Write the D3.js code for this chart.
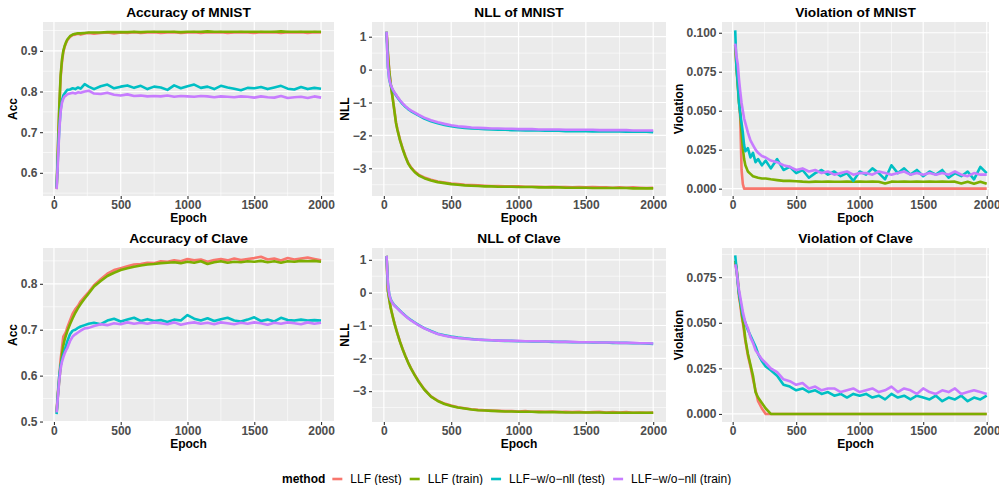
<!DOCTYPE html>
<html>
<head>
<meta charset="utf-8">
<script src="https://cdn.jsdelivr.net/npm/d3@7"></script>
<style>
    body { margin: 0; background: #ffffff; }
    svg { display: block; font-family: "Liberation Sans", Arial, sans-serif; }
</style>
</head>
<body>
<div id="d3plot"></div>
<script>
// Data
// ==================================================================
// epochs sampled (denser where the curves move fast)
const epochs = [20, 30, 40, 50, 60, 70, 80, 90, 100, 120, 140, 160, 180, 200, 230, 260,
    300, 350, 400, 450, 500, 550, 600,
    650, 700, 750, 800, 850, 900, 950,
    1000, 1050, 1100, 1150, 1200, 1250, 1300,
    1350, 1400, 1450, 1500, 1550, 1600, 1650,
    1700, 1750, 1800, 1850, 1900, 1950, 2000];

const methods = ["LLF (test)", "LLF (train)", "LLF\u2212w/o\u2212nll (test)", "LLF\u2212w/o\u2212nll (train)"];

// Accuracy of MNIST
const accMnistTest = [0.560, 0.655, 0.755, 0.835, 0.872, 0.897, 0.910, 0.919, 0.926, 0.934, 0.939, 0.940, 0.942, 0.940, 0.943, 0.944,
    0.942, 0.944, 0.945, 0.943, 0.945, 0.944, 0.946,
    0.944, 0.945, 0.946, 0.944, 0.945, 0.946, 0.944,
    0.945, 0.946, 0.944, 0.946, 0.945, 0.946, 0.944,
    0.945, 0.946, 0.945, 0.944, 0.946, 0.945, 0.946,
    0.944, 0.946, 0.945, 0.946, 0.944, 0.946, 0.945];
const accMnistTrain = [0.562, 0.665, 0.765, 0.840, 0.878, 0.900, 0.912, 0.921, 0.928, 0.936, 0.940, 0.942, 0.943, 0.943, 0.944, 0.945,
    0.945, 0.945, 0.946, 0.946, 0.946, 0.946, 0.947,
    0.946, 0.947, 0.947, 0.947, 0.947, 0.947, 0.946,
    0.947, 0.947, 0.947, 0.948, 0.947, 0.947, 0.947,
    0.947, 0.947, 0.947, 0.947, 0.947, 0.947, 0.947,
    0.948, 0.947, 0.947, 0.947, 0.947, 0.947, 0.947];
const accMnistWoTest = [0.565, 0.640, 0.710, 0.755, 0.778, 0.790, 0.795, 0.800, 0.804, 0.805, 0.808, 0.806, 0.810, 0.807, 0.818, 0.812,
    0.806, 0.813, 0.817, 0.808, 0.812, 0.815, 0.809,
    0.814, 0.806, 0.812, 0.810, 0.804, 0.815, 0.808,
    0.813, 0.817, 0.809, 0.812, 0.806, 0.814, 0.810,
    0.807, 0.803, 0.809, 0.808, 0.811, 0.806, 0.810,
    0.814, 0.807, 0.805, 0.811, 0.806, 0.809, 0.807];
const accMnistWoTrain = [0.560, 0.630, 0.705, 0.750, 0.772, 0.782, 0.788, 0.790, 0.793, 0.795, 0.797, 0.795, 0.798, 0.797, 0.800, 0.802,
    0.795, 0.794, 0.797, 0.792, 0.790, 0.793, 0.789,
    0.790, 0.788, 0.789, 0.788, 0.790, 0.787, 0.789,
    0.788, 0.787, 0.789, 0.788, 0.786, 0.788, 0.787,
    0.786, 0.788, 0.787, 0.785, 0.788, 0.786, 0.785,
    0.789, 0.784, 0.786, 0.787, 0.784, 0.788, 0.785];

// NLL of MNIST
const nllMnistTest = [1.150, 0.500, -0.030, -0.400, -0.700, -0.990, -1.290, -1.600, -1.800, -2.130, -2.400, -2.630, -2.830, -2.960, -3.100, -3.200,
    -3.280, -3.350, -3.400, -3.430, -3.460, -3.480, -3.500,
    -3.510, -3.520, -3.530, -3.540, -3.540, -3.550, -3.550,
    -3.550, -3.560, -3.560, -3.560, -3.570, -3.560, -3.570,
    -3.570, -3.580, -3.570, -3.580, -3.570, -3.580, -3.580,
    -3.590, -3.580, -3.590, -3.580, -3.590, -3.600, -3.590];
const nllMnistTrain = [1.150, 0.480, -0.050, -0.420, -0.720, -1.010, -1.310, -1.620, -1.820, -2.150, -2.420, -2.650, -2.850, -2.980, -3.120, -3.220,
    -3.300, -3.370, -3.420, -3.450, -3.480, -3.500, -3.520,
    -3.530, -3.540, -3.550, -3.550, -3.560, -3.560, -3.560,
    -3.570, -3.570, -3.570, -3.580, -3.580, -3.580, -3.580,
    -3.590, -3.590, -3.590, -3.590, -3.600, -3.600, -3.600,
    -3.600, -3.600, -3.600, -3.610, -3.610, -3.610, -3.610];
const nllMnistWoTest = [1.150, 0.080, -0.300, -0.470, -0.570, -0.650, -0.720, -0.780, -0.840, -0.950, -1.050, -1.130, -1.200, -1.260, -1.330, -1.400,
    -1.490, -1.570, -1.630, -1.680, -1.720, -1.750, -1.770,
    -1.790, -1.800, -1.810, -1.820, -1.830, -1.830, -1.840,
    -1.840, -1.850, -1.850, -1.850, -1.860, -1.860, -1.860,
    -1.870, -1.870, -1.870, -1.870, -1.880, -1.880, -1.880,
    -1.880, -1.880, -1.890, -1.890, -1.890, -1.890, -1.900];
const nllMnistWoTrain = [1.150, 0.100, -0.280, -0.450, -0.550, -0.630, -0.700, -0.760, -0.820, -0.930, -1.030, -1.110, -1.180, -1.240, -1.310, -1.380,
    -1.460, -1.540, -1.600, -1.650, -1.690, -1.720, -1.740,
    -1.760, -1.770, -1.780, -1.790, -1.790, -1.800, -1.800,
    -1.810, -1.810, -1.810, -1.820, -1.820, -1.820, -1.820,
    -1.830, -1.830, -1.830, -1.830, -1.830, -1.840, -1.840,
    -1.840, -1.840, -1.840, -1.850, -1.850, -1.850, -1.850];

// Violation of MNIST
const violMnistTest = [0.092, 0.078, 0.068, 0.057, 0.045, 0.012, 0.003, 0, 0, 0, 0, 0, 0, 0, 0, 0,
    0, 0, 0, 0, 0, 0, 0,
    0, 0, 0, 0, 0, 0, 0,
    0, 0, 0, 0, 0, 0, 0,
    0, 0, 0, 0, 0, 0, 0,
    0, 0, 0, 0, 0, 0, 0];
const violMnistTrain = [0.092, 0.078, 0.066, 0.055, 0.048, 0.036, 0.026, 0.019, 0.015, 0.011, 0.0095, 0.008, 0.0075, 0.007, 0.0065, 0.0065,
    0.0060, 0.0055, 0.0050, 0.0050, 0.0048, 0.0045, 0.0043,
    0.0045, 0.0044, 0.0045, 0.0044, 0.0044, 0.0045, 0.0044,
    0.0045, 0.0044, 0.0045, 0.0044, 0.0033, 0.0045, 0.0044,
    0.0045, 0.0044, 0.0045, 0.0044, 0.0045, 0.0044, 0.0045,
    0.0044, 0.0045, 0.0033, 0.0044, 0.0032, 0.0044, 0.0031];
const violMnistWoTest = [0.1015, 0.078, 0.068, 0.055, 0.048, 0.042, 0.036, 0.028, 0.024, 0.026, 0.020, 0.023, 0.017, 0.019, 0.015, 0.018,
    0.013, 0.019, 0.012, 0.014, 0.010, 0.012, 0.007,
    0.010, 0.012, 0.009, 0.011, 0.008, 0.010, 0.005,
    0.011, 0.009, 0.013, 0.010, 0.006, 0.015, 0.010,
    0.013, 0.009, 0.012, 0.008, 0.011, 0.009, 0.012,
    0.007, 0.010, 0.008, 0.011, 0.006, 0.014, 0.010];
const violMnistWoTrain = [0.093, 0.085, 0.080, 0.070, 0.062, 0.055, 0.050, 0.045, 0.042, 0.036, 0.031, 0.028, 0.025, 0.023, 0.021, 0.020,
    0.018, 0.017, 0.015, 0.014, 0.012, 0.013, 0.011,
    0.012, 0.010, 0.011, 0.009, 0.010, 0.011, 0.009,
    0.010, 0.010, 0.009, 0.011, 0.010, 0.009, 0.010,
    0.011, 0.009, 0.010, 0.009, 0.010, 0.009, 0.010,
    0.009, 0.011, 0.009, 0.008, 0.010, 0.009, 0.009];

// Accuracy of Clave
const accClaveTest = [0.520, 0.565, 0.600, 0.635, 0.660, 0.685, 0.690, 0.695, 0.705, 0.720, 0.735, 0.745, 0.752, 0.762, 0.772, 0.782,
    0.797, 0.810, 0.822, 0.830, 0.834, 0.838, 0.842,
    0.843, 0.846, 0.845, 0.849, 0.848, 0.851, 0.849,
    0.854, 0.851, 0.853, 0.848, 0.852, 0.854, 0.851,
    0.855, 0.852, 0.854, 0.856, 0.859, 0.853, 0.855,
    0.851, 0.856, 0.853, 0.855, 0.857, 0.854, 0.851];
const accClaveTrain = [0.520, 0.560, 0.590, 0.620, 0.645, 0.665, 0.678, 0.688, 0.697, 0.712, 0.725, 0.737, 0.747, 0.756, 0.768, 0.779,
    0.794, 0.806, 0.817, 0.824, 0.830, 0.834, 0.837,
    0.840, 0.842, 0.843, 0.845, 0.846, 0.847, 0.845,
    0.848, 0.846, 0.849, 0.843, 0.847, 0.849, 0.846,
    0.848, 0.847, 0.849, 0.848, 0.850, 0.847, 0.849,
    0.846, 0.849, 0.848, 0.850, 0.849, 0.850, 0.848];
const accClaveWoTest = [0.516, 0.560, 0.600, 0.622, 0.635, 0.645, 0.655, 0.665, 0.675, 0.690, 0.698, 0.700, 0.704, 0.707, 0.710, 0.713,
    0.715, 0.712, 0.720, 0.724, 0.718, 0.722, 0.726,
    0.719, 0.723, 0.719, 0.721, 0.717, 0.722, 0.720,
    0.732, 0.724, 0.720, 0.725, 0.719, 0.723, 0.726,
    0.720, 0.718, 0.722, 0.727, 0.719, 0.722, 0.718,
    0.726, 0.721, 0.720, 0.722, 0.720, 0.721, 0.720];
const accClaveWoTrain = [0.520, 0.555, 0.590, 0.615, 0.630, 0.640, 0.648, 0.655, 0.660, 0.675, 0.685, 0.690, 0.694, 0.698, 0.703, 0.704,
    0.708, 0.712, 0.710, 0.714, 0.712, 0.716, 0.713,
    0.715, 0.713, 0.716, 0.714, 0.712, 0.716, 0.711,
    0.714, 0.716, 0.713, 0.715, 0.712, 0.716, 0.714,
    0.712, 0.715, 0.713, 0.716, 0.714, 0.711, 0.715,
    0.713, 0.716, 0.714, 0.712, 0.716, 0.713, 0.715];

// NLL of Clave
const nllClaveTest = [1.120, 0.060, -0.190, -0.440, -0.620, -0.790, -0.950, -1.090, -1.230, -1.490, -1.720, -1.930, -2.120, -2.290, -2.510, -2.710,
    -2.940, -3.160, -3.290, -3.380, -3.440, -3.490, -3.520,
    -3.550, -3.570, -3.580, -3.590, -3.600, -3.610, -3.610,
    -3.620, -3.610, -3.630, -3.620, -3.630, -3.620, -3.640,
    -3.630, -3.640, -3.630, -3.650, -3.640, -3.630, -3.650,
    -3.640, -3.650, -3.640, -3.660, -3.650, -3.660, -3.650];
const nllClaveTrain = [1.120, 0.050, -0.200, -0.450, -0.630, -0.800, -0.960, -1.100, -1.240, -1.500, -1.730, -1.940, -2.130, -2.300, -2.520, -2.720,
    -2.950, -3.170, -3.300, -3.390, -3.450, -3.500, -3.530,
    -3.560, -3.580, -3.590, -3.600, -3.610, -3.620, -3.620,
    -3.630, -3.630, -3.630, -3.640, -3.640, -3.640, -3.640,
    -3.650, -3.650, -3.650, -3.650, -3.650, -3.650, -3.660,
    -3.660, -3.660, -3.660, -3.660, -3.660, -3.660, -3.660];
const nllClaveWoTest = [1.120, 0.280, -0.050, -0.200, -0.280, -0.340, -0.390, -0.430, -0.470, -0.550, -0.630, -0.700, -0.770, -0.830, -0.910, -0.990,
    -1.080, -1.170, -1.250, -1.300, -1.340, -1.370, -1.390,
    -1.410, -1.430, -1.440, -1.450, -1.460, -1.470, -1.470,
    -1.480, -1.480, -1.490, -1.490, -1.490, -1.500, -1.500,
    -1.500, -1.510, -1.510, -1.510, -1.520, -1.520, -1.520,
    -1.530, -1.530, -1.530, -1.540, -1.540, -1.550, -1.560];
const nllClaveWoTrain = [1.120, 0.270, -0.060, -0.210, -0.290, -0.350, -0.400, -0.440, -0.480, -0.560, -0.640, -0.710, -0.780, -0.840, -0.920, -1.000,
    -1.090, -1.180, -1.260, -1.310, -1.350, -1.380, -1.400,
    -1.420, -1.430, -1.440, -1.450, -1.460, -1.460, -1.470,
    -1.470, -1.480, -1.480, -1.480, -1.490, -1.490, -1.500,
    -1.500, -1.500, -1.510, -1.510, -1.510, -1.520, -1.520,
    -1.520, -1.530, -1.530, -1.530, -1.540, -1.540, -1.550];

// Violation of Clave
const violClaveTest = [0.083, 0.079, 0.072, 0.064, 0.060, 0.054, 0.050, 0.045, 0.040, 0.032, 0.026, 0.019, 0.013, 0.007, 0.003, 0,
    0, 0, 0, 0, 0, 0, 0,
    0, 0, 0, 0, 0, 0, 0,
    0, 0, 0, 0, 0, 0, 0,
    0, 0, 0, 0, 0, 0, 0,
    0, 0, 0, 0, 0, 0, 0];
const violClaveTrain = [0.084, 0.080, 0.074, 0.066, 0.061, 0.056, 0.051, 0.047, 0.041, 0.033, 0.027, 0.021, 0.012, 0.009, 0.006, 0.003,
    0, 0, 0, 0, 0, 0, 0,
    0, 0, 0, 0, 0, 0, 0,
    0, 0, 0, 0, 0, 0, 0,
    0, 0, 0, 0, 0, 0, 0,
    0, 0, 0, 0, 0, 0, 0];
const violClaveWoTest = [0.087, 0.080, 0.072, 0.066, 0.062, 0.058, 0.054, 0.052, 0.050, 0.046, 0.043, 0.040, 0.037, 0.033, 0.029, 0.026,
    0.024, 0.021, 0.016, 0.015, 0.013, 0.014, 0.012,
    0.013, 0.011, 0.012, 0.010, 0.011, 0.009, 0.011,
    0.010, 0.011, 0.009, 0.010, 0.008, 0.011, 0.009,
    0.010, 0.008, 0.010, 0.009, 0.008, 0.010, 0.007,
    0.009, 0.008, 0.010, 0.007, 0.009, 0.008, 0.010];
const violClaveWoTrain = [0.082, 0.079, 0.073, 0.068, 0.064, 0.060, 0.056, 0.053, 0.050, 0.047, 0.042, 0.039, 0.035, 0.033, 0.030, 0.028,
    0.025, 0.023, 0.019, 0.018, 0.016, 0.017, 0.014,
    0.015, 0.013, 0.014, 0.014, 0.012, 0.013, 0.014,
    0.012, 0.013, 0.014, 0.012, 0.013, 0.015, 0.012,
    0.014, 0.013, 0.011, 0.014, 0.012, 0.011, 0.013,
    0.012, 0.014, 0.011, 0.012, 0.013, 0.012, 0.011];

// Panels, in reading order
const panelTitles = ["Accuracy of MNIST", "NLL of MNIST", "Violation of MNIST",
    "Accuracy of Clave", "NLL of Clave", "Violation of Clave"];
const yLabels = ["Acc", "NLL", "Violation", "Acc", "NLL", "Violation"];
const panelSeries = [
    [accMnistTest, accMnistTrain, accMnistWoTest, accMnistWoTrain],
    [nllMnistTest, nllMnistTrain, nllMnistWoTest, nllMnistWoTrain],
    [violMnistTest, violMnistTrain, violMnistWoTest, violMnistWoTrain],
    [accClaveTest, accClaveTrain, accClaveWoTest, accClaveWoTrain],
    [nllClaveTest, nllClaveTrain, nllClaveWoTest, nllClaveWoTrain],
    [violClaveTest, violClaveTrain, violClaveWoTest, violClaveWoTrain]
];
const xTicks = [0, 500, 1000, 1500, 2000];
const yTicks = [
    [0.6, 0.7, 0.8, 0.9],
    [-3, -2, -1, 0, 1],
    [0, 0.025, 0.05, 0.075, 0.1],
    [0.5, 0.6, 0.7, 0.8],
    [-3, -2, -1, 0, 1],
    [0, 0.025, 0.05, 0.075]
];
const yFormats = [".1f", "d", ".3f", ".1f", "d", ".3f"];

// Scale limits (data range plus ggplot's 5% padding)
const xDomains = [[-82, 2097], [-88, 2095], [-84, 2018]];
const yDomains = [
    [0.543, 0.971],
    [-3.842, 1.447],
    [-0.0047, 0.1069],
    [0.499, 0.878],
    [-3.94, 1.36],
    [-0.0044, 0.0910]
];

// Layout
// ==================================================================
const width = 999,
    height = 485,
    colBox = [[43, 334], [372, 666], [722, 989]],
    rowBox = [[22, 196], [248, 422]],
    lineWidth = 2.6,
    colorScale = d3.scaleOrdinal()
        .domain(methods)
        .range(["#F8766D", "#7CAE00", "#00BFC4", "#C77CFF"]);

let svg = d3.select("#d3plot")
    .append("svg")
        .attr("width", width)
        .attr("height", height);

svg.append("rect")
    .attr("width", width)
    .attr("height", height)
    .attr("fill", "#ffffff");

// Functions
// ==================================================================
/**
 * Minor breaks half way between the major ones, kept inside the limits
 */
function minor_breaks(ticks, domain) {
    let step = ticks[1] - ticks[0];
    let out = [ticks[0] - step / 2];
    ticks.forEach((t) => { out.push(t + step / 2); });
    return out.filter((m) => m > domain[0] && m < domain[1]);
};

function style_axis(g) {
    g.select(".domain").remove();
    g.selectAll(".tick line")
        .attr("stroke", "#333333")
        .attr("stroke-width", 1.1);
    g.selectAll(".tick text")
        .attr("fill", "#4D4D4D")
        .attr("font-size", "12px")
        .attr("font-weight", "bold")
        .attr("font-family", "'Liberation Sans', Arial, sans-serif");
};

function draw_panel(i) {
    const col = i % 3,
        row = Math.floor(i / 3),
        left = colBox[col][0], right = colBox[col][1],
        top = rowBox[row][0], bottom = rowBox[row][1];

    let xScale = d3.scaleLinear().domain(xDomains[col]).range([left, right]);
    let yScale = d3.scaleLinear().domain(yDomains[i]).range([bottom, top]);

    let g = svg.append("g");

    // panel background
    g.append("rect")
        .attr("x", left)
        .attr("y", top)
        .attr("width", right - left)
        .attr("height", bottom - top)
        .attr("fill", "#EBEBEB");

    // grid
    g.selectAll("line.ymin")
        .data(minor_breaks(yTicks[i], yDomains[i]))
        .enter()
        .append("line")
            .attr("x1", left).attr("x2", right)
            .attr("y1", (d) => yScale(d)).attr("y2", (d) => yScale(d))
            .attr("stroke", "#ffffff").attr("stroke-width", 0.6);
    g.selectAll("line.xmin")
        .data(minor_breaks(xTicks, xDomains[col]))
        .enter()
        .append("line")
            .attr("y1", top).attr("y2", bottom)
            .attr("x1", (d) => xScale(d)).attr("x2", (d) => xScale(d))
            .attr("stroke", "#ffffff").attr("stroke-width", 0.6);
    g.selectAll("line.ymaj")
        .data(yTicks[i])
        .enter()
        .append("line")
            .attr("x1", left).attr("x2", right)
            .attr("y1", (d) => yScale(d)).attr("y2", (d) => yScale(d))
            .attr("stroke", "#ffffff").attr("stroke-width", 1.2);
    g.selectAll("line.xmaj")
        .data(xTicks)
        .enter()
        .append("line")
            .attr("y1", top).attr("y2", bottom)
            .attr("x1", (d) => xScale(d)).attr("x2", (d) => xScale(d))
            .attr("stroke", "#ffffff").attr("stroke-width", 1.2);

    // lines, drawn in legend order
    let line = d3.line()
        .x((d, k) => xScale(epochs[k]))
        .y((d) => yScale(d));

    g.selectAll("path.series")
        .data(panelSeries[i])
        .enter()
        .append("path")
            .attr("class", "series")
            .attr("fill", "none")
            .attr("stroke", (d, k) => colorScale(methods[k]))
            .attr("stroke-width", lineWidth)
            .attr("stroke-linejoin", "round")
            .attr("stroke-linecap", "butt")
            .attr("d", line);

    // axes
    let yAxis = g.append("g")
        .attr("transform", "translate(" + left + ",0)")
        .call(d3.axisLeft(yScale)
            .tickValues(yTicks[i])
            .tickFormat(d3.format(yFormats[i]))
            .tickSizeInner(3).tickSizeOuter(0).tickPadding(2.5));
    style_axis(yAxis);

    let xAxis = g.append("g")
        .attr("transform", "translate(0," + bottom + ")")
        .call(d3.axisBottom(xScale)
            .tickValues(xTicks)
            .tickFormat(d3.format("d"))
            .tickSizeInner(3).tickSizeOuter(0).tickPadding(1.5));
    style_axis(xAxis);

    // titles
    g.append("text")
        .attr("x", (left + right) / 2)
        .attr("y", top - 5)
        .attr("text-anchor", "middle")
        .attr("font-size", "13.7px")
        .attr("font-weight", "bold")
        .attr("fill", "#000000")
        .text(panelTitles[i]);

    g.append("text")
        .attr("x", (left + right) / 2)
        .attr("y", bottom + 26)
        .attr("text-anchor", "middle")
        .attr("font-size", "12px")
        .attr("font-weight", "bold")
        .attr("fill", "#000000")
        .text("Epoch");

    // y title sits just left of the widest tick label
    let box = yAxis.node().getBBox();
    let yTitleX = left + box.x - 3.5;
    g.append("text")
        .attr("transform", "translate(" + yTitleX + "," + (top + bottom) / 2 + ") rotate(-90)")
        .attr("text-anchor", "middle")
        .attr("font-size", "12px")
        .attr("font-weight", "bold")
        .attr("fill", "#000000")
        .text(yLabels[i]);
};

function create_legend() {
    const y = 479;
    let legend = svg.append("g");

    let title = legend.append("text")
        .attr("x", 282)
        .attr("y", y + 4.3)
        .attr("font-size", "12px")
        .attr("font-weight", "bold")
        .attr("fill", "#000000")
        .text("method");

    let x = 282 + title.node().getComputedTextLength() + 7;
    methods.forEach((m) => {
        legend.append("line")
            .attr("x1", x).attr("x2", x + 10)
            .attr("y1", y).attr("y2", y)
            .attr("stroke", colorScale(m))
            .attr("stroke-width", lineWidth);
        let label = legend.append("text")
            .attr("x", x + 18)
            .attr("y", y + 4.3)
            .attr("font-size", "12px")
            .attr("fill", "#000000")
            .text(m);
        x = x + 18 + label.node().getComputedTextLength() + 8;
    });
};

// Plot
// ==================================================================
panelTitles.forEach((t, i) => { draw_panel(i); });
create_legend();
</script>
</body>
</html>
